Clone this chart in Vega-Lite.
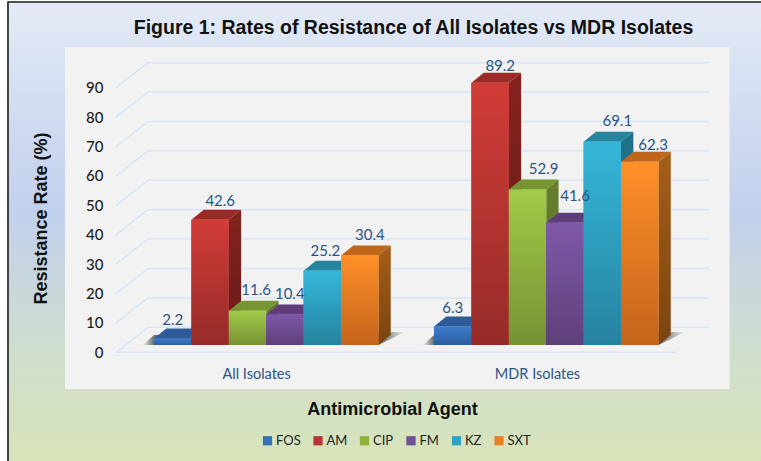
{
"$schema":"https://vega.github.io/schema/vega-lite/v6.json",
"width":761,"height":461,"autosize":"none","padding":0,"background":"#ffffff",
"title":{"text":"Figure 1: Rates of Resistance of All Isolates vs MDR Isolates","anchor":"middle","orient":"top","offset":-38,"dx":33,"font":"Liberation Sans","fontWeight":"bold","fontSize":19.5,"color":"#111111"},
"config":{"view":{"stroke":null}},
"datasets":{
"bars":[
{"group":"All Isolates","agent":"FOS","value":2.2},{"group":"All Isolates","agent":"AM","value":42.6},{"group":"All Isolates","agent":"CIP","value":11.6},{"group":"All Isolates","agent":"FM","value":10.4},{"group":"All Isolates","agent":"KZ","value":25.2},{"group":"All Isolates","agent":"SXT","value":30.4},
{"group":"MDR Isolates","agent":"FOS","value":6.3},{"group":"MDR Isolates","agent":"AM","value":89.2},{"group":"MDR Isolates","agent":"CIP","value":52.9},{"group":"MDR Isolates","agent":"FM","value":41.6},{"group":"MDR Isolates","agent":"KZ","value":69.1},{"group":"MDR Isolates","agent":"SXT","value":62.3}],
"ticks":[{"tick":0},{"tick":10},{"tick":20},{"tick":30},{"tick":40},{"tick":50},{"tick":60},{"tick":70},{"tick":80},{"tick":90}]
},
"encoding":{
"x":{"type":"quantitative","scale":{"domain":[-4.1176,16.2299],"nice":false,"zero":false},"axis":{"zindex":1,"values":[2.73,10.24],"labelExpr":"datum.value<5?'All Isolates':'MDR Isolates'","orient":"bottom","offset":-87,"domain":false,"ticks":false,"grid":false,"labelPadding":0,"labelBaseline":"middle","labelFont":"Lato","labelFontSize":14.5,"labelColor":"#2b5487","title":"Antimicrobial Agent","titleFont":"Liberation Sans","titleFontSize":18,"titleFontWeight":"bold","titleColor":"#111111","titleX":392,"titleY":35,"titleAnchor":"middle","titleBaseline":"middle"}},
"y":{"type":"quantitative","scale":{"domain":[-36.97,119.83],"nice":false,"zero":false},"axis":{"zindex":1,"values":[0,10,20,30,40,50,60,70,80,90],"orient":"left","offset":-103,"domain":false,"ticks":false,"grid":false,"labelPadding":0,"labelFont":"Lato","labelFontSize":15,"labelFontWeight":500,"labelColor":"#1d1d1d","title":"Resistance Rate (%)","titleFont":"Liberation Sans","titleFontSize":18,"titleFontWeight":"bold","titleColor":"#111111","titleX":-62,"titleY":218,"titleAnchor":"middle","titleBaseline":"middle"}}
},
"layer":[
{"data":{"values":[{}]},"mark":{"type":"rect","stroke":"#1c1c1c","strokeWidth":1.6,"fill":{"x1":0,"y1":0,"x2":0,"y2":1,"gradient":"linear","stops":[{"offset":0,"color":"#e4eaf6"},{"offset":0.45,"color":"#c1d0ed"},{"offset":0.8,"color":"#d2dfc9"},{"offset":1,"color":"#d7e4ba"}]}},
"encoding":{"x":{"datum":-3.904},"x2":{"datum":16.6},"y":{"datum":119.15},"y2":{"datum":-38}}},
{"data":{"values":[{}]},"mark":{"type":"rect","fill":"#f2f2f2"},
"encoding":{"x":{"datum":-2.380},"x2":{"datum":15.390},"y":{"datum":103.8},"y2":{"datum":-12.5}}},
{"data":{"name":"ticks"},"transform":[{"calculate":"datum.tick+8.5","as":"back"}],"mark":{"type":"rule","stroke":"#d8e5f6","strokeWidth":1.5},
"encoding":{"x":{"datum":-0.16},"x2":{"datum":14.84},"y":{"field":"back"}}},
{"data":{"name":"ticks"},"transform":[{"calculate":"datum.tick+8.5","as":"back"}],"mark":{"type":"rule","stroke":"#d8e5f6","strokeWidth":1.5},
"encoding":{"x":{"datum":-1.016},"x2":{"datum":-0.16},"y":{"field":"tick"},"y2":{"field":"back"}}},
{"data":{"values":[{}]},"mark":{"type":"rule","stroke":"#d8e5f6","strokeWidth":1.5},
"encoding":{"x":{"datum":-1.016},"x2":{"datum":13.98},"y":{"datum":0}}},
{"data":{"values":[{"group":"All Isolates"},{"group":"MDR Isolates"}]},
"transform":[{"calculate":"[0,1,2,3]","as":"c"},{"flatten":["c"]},
{"calculate":"(datum.group==='MDR Isolates'?7.487:0)+[-0.3,0,6,6.71][datum.c]","as":"px"},
{"calculate":"[2.5,5.9,6.9,6.9][datum.c]","as":"hi"},{"calculate":"[2.5,2.5,2.5,6.9][datum.c]","as":"lo"}],
"mark":{"type":"area","orient":"vertical","fill":{"x1":0,"y1":0,"x2":1,"y2":0,"gradient":"linear","stops":[{"offset":0,"color":"#f0f0f0"},{"offset":0.042,"color":"#6e6e6e"},{"offset":0.9,"color":"#5e5e5e"},{"offset":1,"color":"#f0f0f0"}]}},
"encoding":{"x":{"field":"px"},"y":{"field":"hi","stack":null},"y2":{"field":"lo"},"detail":{"field":"group"}}},
{"data":{"name":"bars"},
"transform":[{"calculate":"indexof(['FOS','AM','CIP','FM','KZ','SXT'],datum.agent)+(datum.group==='MDR Isolates'?7.487:0)","as":"slot"},{"calculate":"datum.group+datum.agent","as":"key"},{"calculate":"[0,1]","as":"c"},{"flatten":["c"]},
{"calculate":"datum.slot+1+0.33*datum.c","as":"px"},{"calculate":"datum.value+2.5+3.4*datum.c","as":"hi"},{"calculate":"2.5+3.4*datum.c","as":"lo"}],
"mark":{"type":"area","orient":"vertical"},
"encoding":{"x":{"field":"px"},"y":{"field":"hi","stack":null},"y2":{"field":"lo"},"detail":{"field":"key"},
"fill":{"condition":[
{"test":"datum.agent==='FOS'","value":"#234f86"},
{"test":"datum.agent==='AM'","value":{"x1":0,"y1":0,"x2":0,"y2":1,"gradient":"linear","stops":[{"offset":0,"color":"#83231f"},{"offset":1,"color":"#661a18"}]}},
{"test":"datum.agent==='CIP'","value":{"x1":0,"y1":0,"x2":0,"y2":1,"gradient":"linear","stops":[{"offset":0,"color":"#687f2e"},{"offset":1,"color":"#566a26"}]}},
{"test":"datum.agent==='FM'","value":"#503468"},
{"test":"datum.agent==='KZ'","value":{"x1":0,"y1":0,"x2":0,"y2":1,"gradient":"linear","stops":[{"offset":0,"color":"#20728a"},{"offset":1,"color":"#1b5f74"}]}}
],"value":{"x1":0,"y1":0,"x2":0,"y2":1,"gradient":"linear","stops":[{"offset":0,"color":"#a55e18"},{"offset":1,"color":"#7b4410"}]}}}},
{"data":{"name":"bars"},
"transform":[{"calculate":"indexof(['FOS','AM','CIP','FM','KZ','SXT'],datum.agent)+(datum.group==='MDR Isolates'?7.487:0)","as":"slot"},{"calculate":"datum.group+datum.agent","as":"key"},{"calculate":"[0,1,2,3]","as":"c"},{"flatten":["c"]},
{"calculate":"datum.slot+[0,0.33,1,1.33][datum.c]","as":"px"},{"calculate":"datum.value+2.5+[0,3.4,3.4,3.4][datum.c]","as":"hi"},{"calculate":"datum.value+2.5+[0,0,0,3.4][datum.c]","as":"lo"}],
"mark":{"type":"area","orient":"vertical"},
"encoding":{"x":{"field":"px"},"y":{"field":"hi","stack":null},"y2":{"field":"lo"},"detail":{"field":"key"},
"fill":{"condition":[
{"test":"datum.agent==='FOS'","value":"#2c5b98"},
{"test":"datum.agent==='AM'","value":"#9b2926"},
{"test":"datum.agent==='CIP'","value":"#779432"},
{"test":"datum.agent==='FM'","value":"#5f3d7a"},
{"test":"datum.agent==='KZ'","value":"#26849f"}
],"value":"#bf661b"}}},
{"data":{"name":"bars"},
"transform":[{"calculate":"indexof(['FOS','AM','CIP','FM','KZ','SXT'],datum.agent)+(datum.group==='MDR Isolates'?7.487:0)","as":"slot"},{"calculate":"datum.slot+1","as":"slotEnd"},{"calculate":"datum.value+2.5","as":"hi"},{"calculate":"2.5","as":"lo"}],
"mark":{"type":"rect"},
"encoding":{"x":{"field":"slot"},"x2":{"field":"slotEnd"},"y":{"field":"hi"},"y2":{"field":"lo"},
"color":{"field":"agent","type":"nominal","scale":{"domain":["FOS","AM","CIP","FM","KZ","SXT"],"range":["#3670b8","#b93432","#8fb23f","#6f4f96","#2fa3c4","#ec8124"]},
"legend":{"title":null,"orient":"none","legendX":261,"legendY":434,"direction":"horizontal","columns":6,"symbolType":"square","symbolSize":85,"columnPadding":10.5,"labelFont":"Lato","labelFontSize":13,"labelColor":"#222222","labelOffset":2}}}},
{"data":{"name":"bars"},
"transform":[{"calculate":"indexof(['FOS','AM','CIP','FM','KZ','SXT'],datum.agent)+(datum.group==='MDR Isolates'?7.487:0)","as":"slot"},{"calculate":"datum.slot+1","as":"slotEnd"},{"calculate":"datum.value+2.5","as":"hi"},{"calculate":"2.5","as":"lo"}],
"mark":{"type":"rect"},
"encoding":{"x":{"field":"slot"},"x2":{"field":"slotEnd"},"y":{"field":"hi"},"y2":{"field":"lo"},
"fill":{"condition":[
{"test":"datum.agent==='FOS'","value":{"x1":0,"y1":0,"x2":0,"y2":1,"gradient":"linear","stops":[{"offset":0,"color":"#3d7ccb"},{"offset":1,"color":"#2c5f9f"}]}},
{"test":"datum.agent==='AM'","value":{"x1":0,"y1":0,"x2":0,"y2":1,"gradient":"linear","stops":[{"offset":0,"color":"#d13c38"},{"offset":1,"color":"#962b28"}]}},
{"test":"datum.agent==='CIP'","value":{"x1":0,"y1":0,"x2":0,"y2":1,"gradient":"linear","stops":[{"offset":0,"color":"#a1cb48"},{"offset":1,"color":"#769235"}]}},
{"test":"datum.agent==='FM'","value":{"x1":0,"y1":0,"x2":0,"y2":1,"gradient":"linear","stops":[{"offset":0,"color":"#7f58a9"},{"offset":1,"color":"#5e4079"}]}},
{"test":"datum.agent==='KZ'","value":{"x1":0,"y1":0,"x2":0,"y2":1,"gradient":"linear","stops":[{"offset":0,"color":"#35b7da"},{"offset":1,"color":"#26829f"}]}}
],"value":{"x1":0,"y1":0,"x2":0,"y2":1,"gradient":"linear","stops":[{"offset":0,"color":"#ff9029"},{"offset":1,"color":"#c4631b"}]}}}},
{"data":{"name":"bars"},
"transform":[{"calculate":"indexof(['FOS','AM','CIP','FM','KZ','SXT'],datum.agent)+(datum.group==='MDR Isolates'?7.487:0)","as":"slot"},
{"calculate":"({'All IsolatesFOS':0,'All IsolatesAM':0.27,'All IsolatesCIP':0.23,'All IsolatesFM':0.13,'All IsolatesKZ':0.08,'All IsolatesSXT':0.27,'MDR IsolatesFOS':0,'MDR IsolatesAM':0.27,'MDR IsolatesCIP':0.43,'MDR IsolatesFM':0.27,'MDR IsolatesKZ':0.4,'MDR IsolatesSXT':0.36})[datum.group+datum.agent]","as":"nx"},
{"calculate":"({'All IsolatesFOS':2.9,'All IsolatesAM':3.06,'All IsolatesCIP':3.6,'All IsolatesFM':3.6,'All IsolatesKZ':3.4,'All IsolatesSXT':3.6,'MDR IsolatesFOS':2.7,'MDR IsolatesAM':2.4,'MDR IsolatesCIP':3.4,'MDR IsolatesFM':5.8,'MDR IsolatesKZ':3.7,'MDR IsolatesSXT':2.3})[datum.group+datum.agent]","as":"ny"},
{"calculate":"datum.slot+0.5+datum.nx","as":"lx"},{"calculate":"datum.value+2.5+3.4+datum.ny","as":"ly"}],
"mark":{"type":"text","font":"Lato","fontSize":15,"color":"#2b5487","baseline":"middle","align":"center"},
"encoding":{"x":{"field":"lx"},"y":{"field":"ly"},"text":{"field":"value","type":"quantitative","format":".1f"}}}
]
}
